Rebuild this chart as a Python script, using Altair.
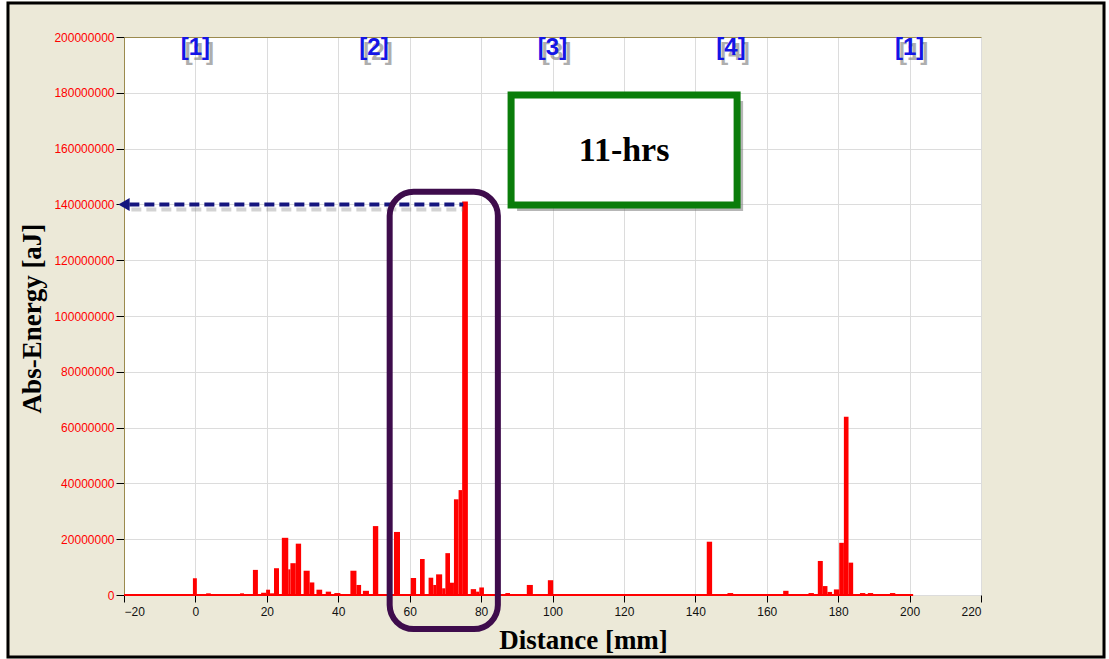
import altair as alt
import pandas as pd

# ---- data ----
bar_start = [-0.7, 3.0, 12.5, 16.1, 18.4, 19.8, 20.9, 22.0, 24.2, 26.0,
             26.6, 28.1, 30.3, 32.0, 33.9, 36.5, 38.9, 43.4, 45.1, 46.9,
             49.7, 55.6, 60.3, 62.9, 65.3, 66.6, 67.4, 69.1, 70.0, 71.3,
             72.4, 73.7, 74.7, 77.1, 78.6, 79.5, 86.8, 92.8, 98.7, 143.2,
             149.0, 164.6, 171.7, 174.3, 175.7, 177.0, 178.8, 180.3, 181.6, 182.9,
             186.1, 188.3, 194.5]
bar_end = [0.4, 4.3, 13.6, 17.5, 19.8, 20.9, 22.0, 23.4, 26.0, 26.6,
           28.1, 29.6, 32.0, 33.3, 35.5, 38.0, 40.6, 45.1, 46.4, 48.6,
           51.2, 57.3, 61.8, 64.2, 66.6, 67.4, 69.1, 70.0, 71.3, 72.4,
           73.7, 74.7, 76.3, 78.6, 79.5, 80.8, 88.1, 94.5, 100.2, 144.7,
           150.6, 166.1, 173.2, 175.7, 177.0, 178.3, 180.3, 181.6, 182.9, 184.2,
           187.6, 189.8, 196.0]
energy_millions = [6.0, 0.6, 0.6, 9.0, 0.8, 1.9, 0.6, 9.6, 20.5, 9.2,
                   11.4, 18.4, 8.7, 4.5, 1.9, 1.2, 0.7, 8.7, 3.6, 1.5,
                   24.7, 22.6, 6.1, 12.9, 6.2, 3.6, 7.4, 2.4, 15.0, 4.4,
                   34.3, 37.6, 141.0, 2.1, 1.2, 2.7, 0.7, 3.6, 5.3, 19.1,
                   0.7, 1.5, 0.7, 12.2, 3.2, 1.1, 2.0, 18.7, 63.9, 11.6,
                   0.7, 0.7, 0.7]

x_ticks = list(range(-20, 221, 20))
y_ticks = [v * 20000000 for v in range(0, 11)]

zone_x = [0, 50, 100, 150, 200]
zone_labels = ["[1]", "[2]", "[3]", "[4]", "[1]"]
zone_y = 196000000

baseline_range = [-20, 201]
arrow_x = [-18.5, 75.0]
arrow_y = 140000000
highlight_x = [54.4, 84.7]
highlight_y = [144500000, -12200000]
note_x = [88.4, 151.7]
note_y = [179200000, 139800000]
note_text = "11-hrs"

# ---- styles ----
BEIGE = "#ECE9D8"
OLIVE = "#9B8A4E"
RED = "#FF0000"
NAVY = "#15157E"
PURPLE = "#3E0C4C"
GREEN = "#0A7D0A"
BLUE = "#1414E6"

bars = pd.DataFrame({
    "start": bar_start,
    "end": bar_end,
    "energy": [v * 1e6 for v in energy_millions],
    "zero": [0] * len(bar_start),
})

xs = alt.Scale(domain=[-20, 220], nice=False, zero=False)
ys = alt.Scale(domain=[0, 200000000], nice=False, zero=False)

x_axis = alt.Axis(
    values=x_ticks, grid=True, gridColor="#DCDCDC", domain=False,
    tickColor="black", tickSize=7, labelPadding=4,
    labelFont="Liberation Sans Narrow, Liberation Sans", labelFontSize=12,
    labelColor="#111111",
    title="Distance [mm]", titleFont="Liberation Serif", titleFontSize=27,
    titleFontWeight="bold", titleColor="black",
    titleX=459, titleY=53, titleAlign="center", titleBaseline="alphabetic",
)
y_axis = alt.Axis(
    values=y_ticks, format="d", grid=True,
    gridColor={"condition": {"test": "datum.value === 200000000", "value": OLIVE},
               "value": "#DCDCDC"},
    domain=True, domainColor=OLIVE, domainWidth=1,
    tickColor="black", tickSize=8, labelPadding=2,
    labelFont="Liberation Sans", labelFontSize=12, labelColor=RED,
    title="Abs-Energy [aJ]", titleFont="Liberation Serif", titleFontSize=27,
    titleFontWeight="bold", titleColor="black", titleAngle=270,
    titleX=-92, titleY=281, titleAlign="center", titleBaseline="middle",
)

one = pd.DataFrame({"a": [0]})

frame_white = alt.Chart(one).mark_rect(
    fillOpacity=0, stroke="white", strokeWidth=20
).encode(x=alt.value(-127.5), x2=alt.value(991.5), y=alt.value(-45.5), y2=alt.value(631.5))

frame_black = alt.Chart(one).mark_rect(
    fillOpacity=0, stroke="black", strokeWidth=3
).encode(x=alt.value(-116), x2=alt.value(980), y=alt.value(-34), y2=alt.value(620))

base_df = pd.DataFrame({"x0": [baseline_range[0]], "x1": [baseline_range[1]], "y": [0]})
baseline = alt.Chart(base_df).mark_rule(color=RED, strokeWidth=2).encode(
    x=alt.X("x0:Q", scale=xs, axis=x_axis),
    x2="x1:Q",
    y=alt.Y("y:Q", scale=ys, axis=y_axis),
)

bar_layer = alt.Chart(bars).mark_rect(color=RED).encode(
    x=alt.X("start:Q", scale=xs, axis=x_axis),
    x2="end:Q",
    y=alt.Y("energy:Q", scale=ys, axis=y_axis),
    y2="zero:Q",
)

arrow_df = pd.DataFrame({"x0": [arrow_x[0]], "x1": [arrow_x[1]], "y": [arrow_y]})
arrow_shadow = alt.Chart(arrow_df).mark_rule(
    color="#808080", opacity=0.35, strokeWidth=4, strokeDash=[10, 5], yOffset=5, xOffset=2
).encode(
    x=alt.X("x0:Q", scale=xs, axis=x_axis), x2="x1:Q",
    y=alt.Y("y:Q", scale=ys, axis=y_axis),
)
arrow_line = alt.Chart(arrow_df).mark_rule(
    color=NAVY, strokeWidth=4, strokeDash=[10, 5]
).encode(
    x=alt.X("x0:Q", scale=xs, axis=x_axis), x2="x1:Q",
    y=alt.Y("y:Q", scale=ys, axis=y_axis),
)
head_df = pd.DataFrame({"x": [-20], "y": [arrow_y]})
arrow_head = alt.Chart(head_df).mark_point(
    shape="triangle-left", filled=True, size=170, color=NAVY, opacity=1
).encode(
    x=alt.X("x:Q", scale=xs, axis=x_axis),
    y=alt.Y("y:Q", scale=ys, axis=y_axis),
)

hl_df = pd.DataFrame({"x0": [highlight_x[0]], "x1": [highlight_x[1]],
                      "y0": [highlight_y[0]], "y1": [highlight_y[1]]})
highlight = alt.Chart(hl_df).mark_rect(
    fillOpacity=0, stroke=PURPLE, strokeWidth=6, cornerRadius=24
).encode(
    x=alt.X("x0:Q", scale=xs, axis=x_axis), x2="x1:Q",
    y=alt.Y("y0:Q", scale=ys, axis=y_axis), y2="y1:Q",
)

note_df = pd.DataFrame({"x0": [note_x[0]], "x1": [note_x[1]],
                        "y0": [note_y[0]], "y1": [note_y[1]],
                        "xm": [(note_x[0] + note_x[1]) / 2],
                        "ym": [(note_y[0] + note_y[1]) / 2],
                        "t": [note_text]})
note_shadow = alt.Chart(note_df).mark_rect(
    fill="#7A7A7A", opacity=0.55, xOffset=6, x2Offset=6, yOffset=6, y2Offset=6
).encode(
    x=alt.X("x0:Q", scale=xs, axis=x_axis), x2="x1:Q",
    y=alt.Y("y0:Q", scale=ys, axis=y_axis), y2="y1:Q",
)
note_box = alt.Chart(note_df).mark_rect(
    fill="white", stroke=GREEN, strokeWidth=7
).encode(
    x=alt.X("x0:Q", scale=xs, axis=x_axis), x2="x1:Q",
    y=alt.Y("y0:Q", scale=ys, axis=y_axis), y2="y1:Q",
)
note_label = alt.Chart(note_df).mark_text(
    font="Liberation Serif", fontSize=34, fontWeight="bold", color="black",
    align="center", baseline="middle", dy=1
).encode(
    x=alt.X("xm:Q", scale=xs, axis=x_axis),
    y=alt.Y("ym:Q", scale=ys, axis=y_axis),
    text="t:N",
)

zone_df = pd.DataFrame({"x": zone_x, "t": zone_labels, "y": [zone_y] * len(zone_x)})
zone_shadow = alt.Chart(zone_df).mark_text(
    font="Liberation Sans", fontSize=24, fontWeight="bold", color="#7A7A7A",
    opacity=0.6, align="center", baseline="middle", dx=4, dy=5
).encode(
    x=alt.X("x:Q", scale=xs, axis=x_axis),
    y=alt.Y("y:Q", scale=ys, axis=y_axis),
    text="t:N",
)
zone_text = alt.Chart(zone_df).mark_text(
    font="Liberation Sans", fontSize=24, fontWeight="bold", color=BLUE,
    align="center", baseline="middle"
).encode(
    x=alt.X("x:Q", scale=xs, axis=x_axis),
    y=alt.Y("y:Q", scale=ys, axis=y_axis),
    text="t:N",
)

chart = alt.layer(
    frame_white, frame_black, baseline, bar_layer,
    arrow_shadow, arrow_line, arrow_head, highlight,
    note_shadow, note_box, note_label, zone_shadow, zone_text,
).properties(
    width=857, height=558,
    autosize=alt.AutoSizeParams(type="none"),
    padding={"left": 124, "top": 37, "right": 128, "bottom": 64},
    background=BEIGE,
).configure_view(
    fill="white", stroke=None
)

chart.save("out.html", embed_options={"renderer": "svg", "actions": False})
